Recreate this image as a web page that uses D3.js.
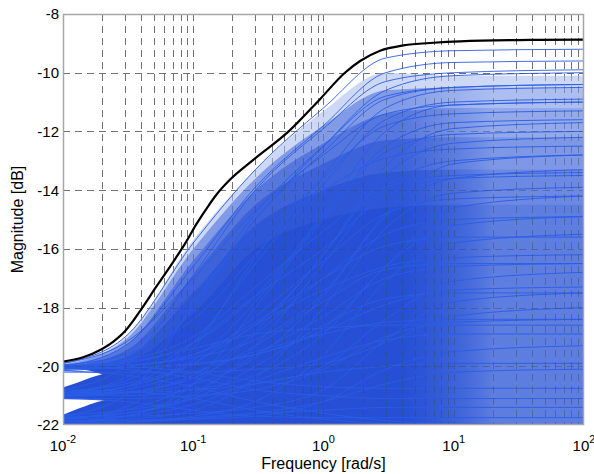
<!DOCTYPE html>
<html>
<head>
<meta charset="utf-8">
<script src="https://cdn.jsdelivr.net/npm/d3@7"></script>
<style>
body { margin: 0; background: #fff; }
text { font-family: Arial, "Liberation Sans", sans-serif; fill: #000; }
</style>
</head>
<body>
<svg id="chart" width="594" height="474"></svg>
<script>
// frequency grid (rad/s) used by every sampled blue curve
var sampleFreq = [0.01, 0.03, 0.1, 0.3, 1, 3, 10, 100];

// black upper envelope
var envFreq = [0.01, 0.0141, 0.0198, 0.0245, 0.03, 0.035, 0.04, 0.052, 0.07, 0.0865, 0.106, 0.13, 0.151, 0.186, 0.289, 0.54, 0.94, 1.46, 1.91, 2.72, 4.1, 6.97, 11.2, 44, 100];
var envMag = [-19.84, -19.7, -19.42, -19.15, -18.8, -18.42, -18.05, -17.29, -16.45, -15.82, -15.15, -14.55, -14.15, -13.7, -12.97, -12.0, -10.9, -10.0, -9.6, -9.25, -9.07, -8.98, -8.93, -8.88, -8.87];

// blue responses starting near -20 dB
var bandA = [
	[-19.9, -19.0, -15.8, -13.3, -11.2, -9.5, -9.25, -9.2],
	[-20.0, -19.3, -16.6, -13.9, -11.8, -10.0, -9.65, -9.6],
	[-20.1, -19.7, -17.8, -15.0, -12.5, -10.6, -10.1, -10.0],
	[-19.95, -19.6, -18.4, -16.2, -13.5, -11.2, -10.6, -10.5],
	[-20.05, -19.9, -19.2, -17.6, -14.8, -12.0, -11.1, -11.0],
	[-20.15, -20.0, -19.6, -18.6, -16.2, -13.2, -11.9, -11.7],
	[-20.0, -19.95, -19.7, -19.1, -17.5, -14.8, -13.1, -12.8],
	[-20.1, -20.05, -19.9, -19.6, -18.7, -16.6, -14.6, -14.2],
	[-20.2, -20.2, -20.2, -20.1, -19.9, -19.2, -18.3, -18.0],
	[-20.15, -20.3, -20.7, -21.2, -21.6, -21.85, -21.95, -22.0],
	[-20.0, -20.1, -20.4, -20.8, -21.0, -21.1, -21.1, -21.1],
	[-20.0, -19.8, -19.0, -17.3, -15.4, -13.9, -13.5, -13.4],
	[-20.1, -20.0, -19.6, -18.5, -17.0, -15.9, -15.6, -15.6],
	[-20.05, -20.05, -19.95, -19.6, -18.8, -17.9, -17.4, -17.3],
	[-19.95, -20.0, -20.2, -20.5, -20.7, -20.75, -20.75, -20.75],
	[-20.0, -19.85, -19.4, -18.9, -18.7, -18.6, -18.6, -18.6],
	[-20.05, -19.5, -17.5, -15.5, -14.0, -12.9, -12.6, -12.5],
	[-19.9, -19.2, -17.0, -14.7, -12.8, -11.4, -11.1, -11.0]
];

// blue responses starting near -21 dB
var bandB = [
	[-20.8, -20.0, -16.9, -14.0, -11.9, -10.3, -10.0, -9.9],
	[-20.9, -20.4, -18.0, -15.0, -12.7, -10.9, -10.5, -10.4],
	[-21.0, -20.7, -19.2, -16.5, -13.8, -11.6, -11.0, -10.9],
	[-20.85, -20.6, -19.8, -17.8, -14.9, -12.5, -11.7, -11.6],
	[-21.05, -20.9, -20.3, -18.8, -16.2, -13.5, -12.4, -12.2],
	[-20.95, -20.9, -20.6, -19.7, -17.6, -14.9, -13.6, -13.3],
	[-21.0, -21.0, -20.8, -20.3, -18.9, -16.6, -15.2, -14.9],
	[-20.9, -20.9, -20.8, -20.6, -20.0, -18.4, -17.1, -16.8],
	[-20.8, -20.85, -21.1, -21.5, -21.8, -21.95, -22.0, -22.0],
	[-21.0, -20.8, -20.2, -19.5, -18.9, -18.5, -18.4, -18.4],
	[-20.9, -20.7, -19.9, -18.6, -17.4, -16.6, -16.3, -16.2],
	[-20.95, -20.7, -19.9, -18.3, -16.4, -14.8, -14.3, -14.2],
	[-21.0, -20.9, -20.4, -19.3, -17.8, -16.7, -16.5, -16.5],
	[-21.1, -21.1, -21.0, -20.8, -20.1, -19.0, -18.5, -18.4],
	[-21.1, -21.2, -21.5, -21.7, -21.75, -21.75, -21.75, -21.75],
	[-20.9, -20.5, -19.2, -17.6, -16.0, -14.2, -13.6, -13.5]
];

// blue responses starting near -22 dB
var bandC = [
	[-21.7, -21.0, -17.9, -14.8, -12.5, -10.8, -10.5, -10.4],
	[-21.8, -21.4, -19.4, -16.3, -13.6, -11.8, -11.4, -11.3],
	[-21.9, -21.7, -20.6, -18.0, -15.0, -12.7, -12.1, -12.0],
	[-21.75, -21.6, -21.0, -19.3, -16.5, -13.9, -13.0, -12.8],
	[-21.85, -21.8, -21.5, -20.4, -18.0, -15.3, -14.1, -13.9],
	[-21.9, -21.9, -21.7, -21.2, -19.6, -17.1, -15.8, -15.5],
	[-21.7, -21.7, -21.6, -21.4, -20.8, -19.1, -17.8, -17.5],
	[-21.8, -21.7, -21.3, -20.5, -19.7, -19.1, -18.9, -18.9],
	[-21.95, -21.9, -21.8, -21.6, -21.2, -20.6, -20.2, -20.1],
	[-21.65, -21.5, -21.1, -20.6, -20.2, -20.0, -19.9, -19.9],
	[-21.9, -21.85, -21.75, -21.6, -21.5, -21.4, -21.4, -21.4],
	[-21.8, -21.5, -20.6, -18.9, -17.0, -15.5, -15.0, -14.9],
	[-21.75, -21.6, -21.1, -20.0, -18.6, -17.7, -17.5, -17.5],
	[-21.85, -21.85, -21.8, -21.7, -21.2, -20.1, -19.5, -19.3],
	[-21.9, -21.7, -20.9, -19.6, -18.3, -17.0, -16.6, -16.5]
];

// upper edges of the shaded density layers, on sampleFreq
var lightTop = [-19.9, -19.0, -15.7, -13.3, -11.3, -10.0, -10.1, -10.1];
var denseTops = [
	[-19.95, -19.1, -16.0, -13.6, -11.8, -10.6, -10.5, -10.5],
	[-20.0, -19.3, -16.4, -14.0, -12.4, -11.4, -11.2, -11.2],
	[-20.05, -19.5, -16.9, -14.5, -13.1, -12.3, -12.2, -12.2],
	[-20.1, -19.7, -17.5, -15.2, -14.0, -13.4, -13.3, -13.3],
	[-20.15, -19.9, -18.2, -16.0, -15.0, -14.6, -14.5, -14.5]
];

// uncovered wedges at the left edge
var gapFreq1 = [0.01, 0.013, 0.016, 0.02];
var gapTop1 = [-20.08, -20.1, -20.15, -20.27];
var gapBot1 = [-20.72, -20.55, -20.4, -20.27];
var gapFreq2 = [0.01, 0.013, 0.016, 0.021];
var gapTop2 = [-21.1, -21.1, -21.12, -21.15];
var gapBot2 = [-21.65, -21.45, -21.3, -21.15];

var yTicks = [-8, -10, -12, -14, -16, -18, -20, -22];
var xTicks = [0.01, 0.1, 1, 10, 100];
var xTickExp = ["-2", "-1", "0", "1", "2"];

var svg = d3.select("#chart");
var W = 594, H = 474;
var m = {l: 63, r: 10, t: 14, b: 49};

var x = d3.scaleLog().domain([1e-2, 1e2]).range([m.l, W - m.r]);
var y = d3.scaleLinear().domain([-22, -8]).range([H - m.b, m.t]);
var floorDb = y.domain()[0];

function zip(fs, ms, bs) {
	return fs.map(function(f, i) { return [f, ms[i], bs ? bs[i] : floorDb]; });
}

var line = d3.line()
	.x(function(d) { return x(d[0]); })
	.y(function(d) { return y(d[1]); })
	.curve(d3.curveMonotoneX);

var area = d3.area()
	.x(function(d) { return x(d[0]); })
	.y1(function(d) { return y(d[1]); })
	.y0(function(d) { return y(d[2]); })
	.curve(d3.curveMonotoneX);

var defs = svg.append("defs");
defs.append("clipPath").attr("id", "plotclip")
	.append("rect")
	.attr("x", m.l).attr("y", m.t)
	.attr("width", W - m.l - m.r).attr("height", H - m.t - m.b);

// density thins out to the right where only flat lines remain
var fade = defs.append("linearGradient").attr("id", "fadeX")
	.attr("gradientUnits", "userSpaceOnUse")
	.attr("x1", x(4)).attr("x2", x(20)).attr("y1", 0).attr("y2", 0);
fade.append("stop").attr("offset", 0).attr("stop-color", "#1a46d2").attr("stop-opacity", 1);
fade.append("stop").attr("offset", 1).attr("stop-color", "#1a46d2").attr("stop-opacity", 0.42);

function drawGrid(g) {
	g.selectAll("line.vx")
		.data(x.ticks().filter(function(t) { return t > x.domain()[0] && t < x.domain()[1]; }))
		.enter().append("line")
		.attr("x1", function(d) { return Math.round(x(d)) + 0.5; })
		.attr("x2", function(d) { return Math.round(x(d)) + 0.5; })
		.attr("y1", m.t).attr("y2", H - m.b);
	g.selectAll("line.hy")
		.data(yTicks.slice(1, -1))
		.enter().append("line")
		.attr("x1", m.l).attr("x2", W - m.r)
		.attr("y1", function(d) { return Math.round(y(d)) + 0.5; })
		.attr("y2", function(d) { return Math.round(y(d)) + 0.5; });
}

// grid under the data
svg.append("g")
	.attr("stroke", "#8a8a8a")
	.attr("stroke-width", 1)
	.attr("stroke-dasharray", "7,5")
	.call(drawGrid);

var plot = svg.append("g").attr("clip-path", "url(#plotclip)");

plot.append("path")
	.attr("d", area(zip(sampleFreq, lightTop)))
	.attr("fill", "#c3d1f5")
	.attr("fill-opacity", 0.85);

plot.selectAll("path.dense")
	.data(denseTops)
	.enter().append("path")
	.attr("class", "dense")
	.attr("d", function(d) { return area(zip(sampleFreq, d)); })
	.attr("fill", "url(#fadeX)")
	.attr("fill-opacity", 0.42);

plot.append("path").attr("d", area(zip(gapFreq1, gapTop1, gapBot1))).attr("fill", "#fff");
plot.append("path").attr("d", area(zip(gapFreq2, gapTop2, gapBot2))).attr("fill", "#fff");

var curves = bandA.concat(bandB, bandC);
plot.selectAll("path.resp")
	.data(curves)
	.enter().append("path")
	.attr("class", "resp")
	.attr("d", function(d) { return line(zip(sampleFreq, d)); })
	.attr("fill", "none")
	.attr("stroke", "#2a5ce6")
	.attr("stroke-width", 0.9);

// faint grid over the data
svg.append("g")
	.attr("stroke", "#444")
	.attr("stroke-opacity", 0.35)
	.attr("stroke-width", 1)
	.attr("stroke-dasharray", "7,5")
	.call(drawGrid);

svg.append("path")
	.attr("clip-path", "url(#plotclip)")
	.attr("d", line(zip(envFreq, envMag)))
	.attr("fill", "none")
	.attr("stroke", "#000")
	.attr("stroke-width", 2.2);

// axes box
svg.append("rect")
	.attr("x", m.l + 0.5).attr("y", m.t + 0.5)
	.attr("width", W - m.l - m.r - 1).attr("height", H - m.t - m.b - 1)
	.attr("fill", "none")
	.attr("stroke", "#a6a6a6")
	.attr("stroke-width", 1.5);

// tick labels
svg.selectAll("text.yl")
	.data(yTicks)
	.enter().append("text")
	.attr("x", m.l - 4)
	.attr("y", function(d) { return y(d); })
	.attr("dy", "0.36em")
	.attr("text-anchor", "end")
	.style("font-size", "15px")
	.text(function(d) { return d; });

var xl = svg.selectAll("text.xl")
	.data(xTicks)
	.enter().append("text")
	.attr("x", function(d) { return x(d); })
	.attr("y", H - m.b + 26)
	.attr("text-anchor", "middle")
	.style("font-size", "15px");
xl.append("tspan").text("10");
xl.append("tspan")
	.attr("dy", -8)
	.style("font-size", "11px")
	.text(function(d, i) { return xTickExp[i]; });

svg.append("text")
	.attr("x", (m.l + W - m.r) / 2)
	.attr("y", H - 5)
	.attr("text-anchor", "middle")
	.style("font-size", "16px")
	.text("Frequency [rad/s]");

svg.append("text")
	.attr("transform", "translate(23," + (m.t + H - m.b) / 2 + ") rotate(-90)")
	.attr("text-anchor", "middle")
	.style("font-size", "16px")
	.text("Magnitude [dB]");
</script>
</body>
</html>
